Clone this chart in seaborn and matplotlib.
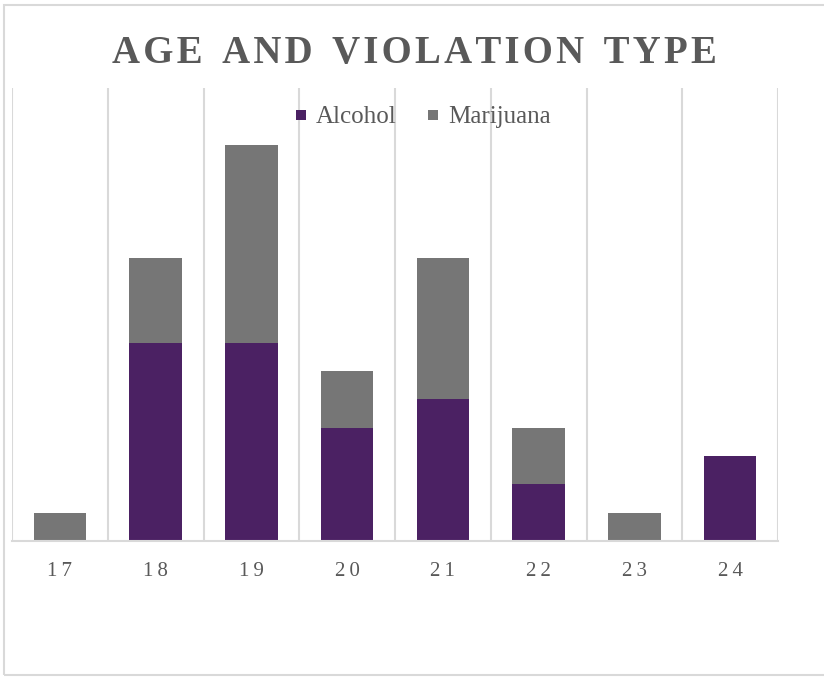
import matplotlib
matplotlib.use("Agg")
import matplotlib.pyplot as plt
import seaborn as sns
import pandas as pd
from matplotlib.lines import Line2D
from matplotlib.patches import Rectangle

# Violations by age
ages = ["17", "18", "19", "20", "21", "22", "23", "24"]
alcohol = [0, 7, 7, 4, 5, 2, 0, 3]
marijuana = [1, 3, 7, 2, 5, 2, 1, 0]

PURPLE = "#4b2163"
GREY = "#767676"
TEXT = "#595959"
LINE = "#d9d9d9"

sns.set_theme(style="white")
plt.rcParams["font.family"] = ["Liberation Serif", "DejaVu Serif"]

df = pd.DataFrame({"age": ages, "Alcohol": alcohol, "Marijuana": marijuana})
df["total"] = df["Alcohol"] + df["Marijuana"]

fig = plt.figure(figsize=(8.24, 6.77), dpi=100)
ax = fig.add_axes([12 / 824, 136 / 677, 766 / 824, 453 / 677])

# stacked columns: full stack in grey, alcohol segment drawn over it from the base
sns.barplot(data=df, x="age", y="total", color=GREY, width=0.55,
            saturation=1, linewidth=0, ax=ax, zorder=3)
sns.barplot(data=df, x="age", y="Alcohol", color=PURPLE, width=0.55,
            saturation=1, linewidth=0, ax=ax, zorder=4)

ax.set_xlim(-0.5, len(ages) - 0.5)
ax.set_ylim(0, 16)
ax.set_xlabel("")
ax.set_ylabel("")
ax.set_yticks([])

# vertical gridlines between categories
for b in range(len(ages) + 1):
    ax.axvline(b - 0.5, color=LINE, lw=1.5, zorder=1)

for s in ["top", "right", "left"]:
    ax.spines[s].set_visible(False)
ax.spines["bottom"].set_color(LINE)
ax.spines["bottom"].set_linewidth(1.5)
ax.spines["bottom"].set_zorder(5)

spaced = ["\u2009".join(a) for a in ages]
ax.set_xticks(range(len(ages)))
ax.set_xticklabels(spaced, fontsize=15, color=TEXT)
ax.tick_params(axis="x", length=0, pad=15)

# chart title with light letter tracking
title = "\u2002".join("\u200a".join(w) for w in "AGE AND VIOLATION TYPE".split())
fig.text(0.503, 0.921, title, ha="center", va="center", fontsize=28,
         fontweight="bold", color=TEXT)

handles = [Line2D([], [], ls="none", marker="s", markersize=7.5,
                  markerfacecolor=PURPLE, markeredgewidth=0, label="Alcohol"),
           Line2D([], [], ls="none", marker="s", markersize=7.5,
                  markerfacecolor=GREY, markeredgewidth=0, label="Marijuana")]
fig.legend(handles=handles, loc="center", bbox_to_anchor=(0.513, 0.827),
           ncol=2, frameon=False, fontsize=18, handlelength=0.5,
           handletextpad=0.35, columnspacing=1.2, labelcolor=TEXT,
           borderpad=0, borderaxespad=0)

# chart area border
fig.patches.append(Rectangle((4 / 824, 2 / 677), 830 / 824, 670 / 677,
                             transform=fig.transFigure, fill=False,
                             edgecolor=LINE, lw=1.5))

fig.savefig("out.png", dpi=100)
